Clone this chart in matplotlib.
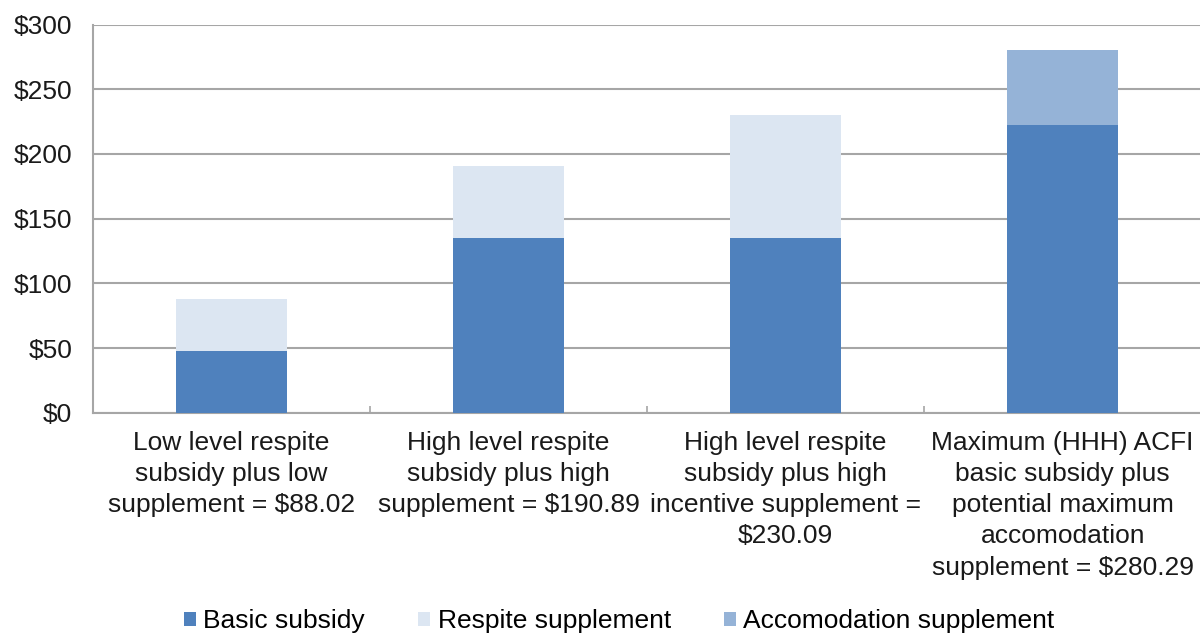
import matplotlib
matplotlib.use("Agg")
import matplotlib.pyplot as plt
import numpy as np

plt.rcParams['font.family'] = ['Liberation Sans', 'DejaVu Sans']

categories = [
    "Low level respite\nsubsidy plus low\nsupplement = $88.02",
    "High level respite\nsubsidy plus high\nsupplement = $190.89",
    "High level respite\nsubsidy plus high\nincentive supplement =\n$230.09",
    "Maximum (HHH) ACFI\nbasic subsidy plus\npotential maximum\naccomodation\nsupplement = $280.29",
]
basic_subsidy = [47.9, 135.0, 135.0, 222.3]
respite_supplement = [40.12, 55.89, 95.09, 0.0]
accomodation_supplement = [0.0, 0.0, 0.0, 57.99]
series_names = ["Basic subsidy", "Respite supplement", "Accomodation supplement"]
y_ticks = [0, 50, 100, 150, 200, 250, 300]
y_tick_labels = ["$0", "$50", "$100", "$150", "$200", "$250", "$300"]

colors = ["#4f81bd", "#dce6f2", "#95b3d7"]
grid_color = "#a6a6a6"
fs = 19

fig = plt.figure(figsize=(12, 6.35), dpi=100)
ax = fig.add_axes([0.0775, 0.35, 0.9235, 0.6114])

x = np.arange(len(categories))
width = 0.4
b1 = ax.bar(x, basic_subsidy, width, color=colors[0], label=series_names[0], zorder=3)
bottom2 = np.array(basic_subsidy)
b2 = ax.bar(x, respite_supplement, width, bottom=bottom2, color=colors[1],
            label=series_names[1], zorder=3)
bottom3 = bottom2 + np.array(respite_supplement)
b3 = ax.bar(x, accomodation_supplement, width, bottom=bottom3, color=colors[2],
            label=series_names[2], zorder=3)

ax.set_xlim(-0.5, len(categories) - 0.5)
ax.set_ylim(0, 300)
ax.set_yticks(y_ticks)
ax.set_yticklabels(y_tick_labels, fontsize=fs, color="#1a1a1a")
ax.tick_params(axis='y', length=0, pad=15)

ax.set_xticks(x)
ax.set_xticklabels(categories, fontsize=fs, color="#1a1a1a", linespacing=1.38)
ax.tick_params(axis='x', which='major', length=0, pad=13)
ax.set_xticks(np.arange(-0.5, len(categories) + 0.5, 1.0), minor=True)
ax.tick_params(axis='x', which='minor', direction='in', length=5,
               color=grid_color, width=1.2)

ax.yaxis.grid(True, color=grid_color, linewidth=1.5, zorder=0)
ax.set_axisbelow(True)
for side in ("top", "right"):
    ax.spines[side].set_visible(False)
for side in ("left", "bottom"):
    ax.spines[side].set_color(grid_color)
    ax.spines[side].set_linewidth(1.5)

fig.legend(handles=[b1, b2, b3], labels=series_names, loc='center',
           bbox_to_anchor=(0.516, 0.022), ncol=3, frameon=False,
           fontsize=fs, handlelength=0.45, handleheight=0.45,
           handletextpad=0.3, columnspacing=2.0)

fig.savefig("out.png", dpi=100)
